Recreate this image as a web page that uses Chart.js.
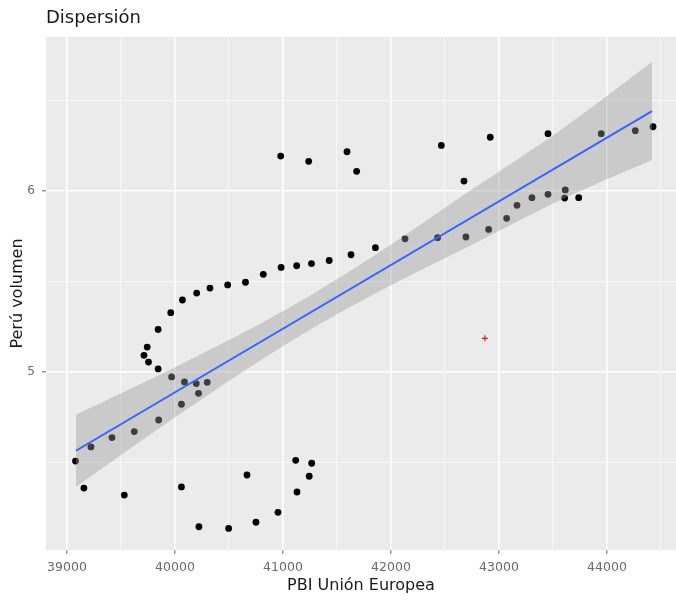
<!DOCTYPE html>
<html>
<head>
<meta charset="utf-8">
<script src="https://cdn.jsdelivr.net/npm/chart.js@4/dist/chart.umd.min.js"></script>
<style>
  body { margin: 0; background: #fff; }
</style>
</head>
<body>
<canvas id="scatterChart" width="676" height="600"></canvas>
<script>
const pbiUE = [39079, 39222, 39157, 39417, 39531, 39623, 39849, 40060, 40218, 40060,
  40088, 40197, 40299, 39969, 39844, 39755, 39713, 39743, 39844, 39961,
  40069, 40201, 40324, 40488, 40653, 40818, 40983, 41127, 41264, 41428,
  41630, 41856, 42130, 42432, 42694, 42904, 43071, 43167, 43305, 43454,
  43614, 43608, 43738, 43947, 44262, 44426, 43454, 42919, 42466, 42676,
  41682, 41593, 41238, 40979, 40222, 40497, 40750, 40954, 40667, 41118,
  41266, 41243, 41130];
const peruVol = [4.508, 4.586, 4.359, 4.638, 4.320, 4.671, 4.735, 4.822, 4.882, 4.365,
  4.945, 4.936, 4.943, 4.973, 5.017, 5.055, 5.092, 5.138, 5.235, 5.328,
  5.398, 5.436, 5.464, 5.481, 5.496, 5.540, 5.578, 5.587, 5.599, 5.616,
  5.648, 5.687, 5.736, 5.742, 5.746, 5.788, 5.849, 5.921, 5.963, 5.982,
  6.006, 5.961, 5.963, 6.317, 6.333, 6.355, 6.317, 6.297, 6.252, 6.055,
  6.109, 6.217, 6.164, 6.193, 4.145, 4.136, 4.170, 4.225, 4.431, 4.512,
  4.496, 4.424, 4.337];

// punto rojo suelto
const rojoX = [42870];
const rojoY = [5.186];

// recta de ajuste y banda de confianza
const fitX = [39083, 44417];
const fitY = [4.565, 6.442];
const bandX = [39083, 39768, 40509, 41250, 41991, 42731, 43565, 44417];
const bandUpper = [4.764, 4.958, 5.179, 5.422, 5.700, 6.001, 6.335, 6.713];
const bandLower = [4.366, 4.654, 4.955, 5.234, 5.476, 5.697, 5.949, 6.171];

const xBreaks = [39000, 39500, 40000, 40500, 41000, 41500, 42000, 42500, 43000, 43500, 44000, 44500];
const yBreaks = [4.5, 5, 5.5, 6, 6.5];

const toXY = (xs, ys) => xs.map((x, i) => ({ x: x, y: ys[i] }));
const isMajorX = v => v % 1000 === 0;
const isMajorY = v => Number.isInteger(v);

const panelBg = {
  id: "panelBg",
  beforeDraw(chart) {
    const { ctx, chartArea: a } = chart;
    ctx.save();
    ctx.fillStyle = "#ebebeb";
    ctx.fillRect(a.left, a.top, a.right - a.left, a.bottom - a.top);
    ctx.restore();
  },
  afterDraw(chart) {
    const ctx = chart.ctx;
    ctx.save();
    ctx.fillStyle = "#1a1a1a";
    ctx.font = '18px "DejaVu Sans"';
    ctx.textBaseline = "alphabetic";
    ctx.fillText("Dispersión", 46, 23);
    ctx.restore();
  }
};

new Chart(document.getElementById("scatterChart"), {
  type: "scatter",
  data: {
    datasets: [
      {
        type: "line",
        data: toXY(fitX, fitY),
        borderColor: "#3366ff",
        borderWidth: 2,
        pointRadius: 0,
        fill: false,
        order: 0
      },
      {
        type: "line",
        data: toXY(bandX, bandUpper),
        borderWidth: 0,
        borderColor: "rgba(0,0,0,0)",
        backgroundColor: "rgba(153,153,153,0.4)",
        pointRadius: 0,
        tension: 0.3,
        fill: "+1",
        order: 1
      },
      {
        type: "line",
        data: toXY(bandX, bandLower),
        borderWidth: 0,
        borderColor: "rgba(0,0,0,0)",
        pointRadius: 0,
        tension: 0.3,
        fill: false,
        order: 1
      },
      {
        data: toXY(rojoX, rojoY),
        pointStyle: "cross",
        pointRadius: 3,
        borderColor: "#d42020",
        borderWidth: 1.2,
        order: 2
      },
      {
        data: toXY(pbiUE, peruVol),
        pointRadius: 3.4,
        backgroundColor: "#000",
        borderWidth: 0,
        order: 3
      }
    ]
  },
  options: {
    responsive: false,
    animation: false,
    layout: { autoPadding: false, padding: { top: 37, left: 0, right: 0, bottom: 0 } },
    plugins: {
      legend: { display: false },
      tooltip: { enabled: false }
    },
    scales: {
      x: {
        type: "linear",
        min: 38806,
        max: 44639,
        afterFit: s => { s.height = 50; },
        afterBuildTicks: s => { s.ticks = xBreaks.map(v => ({ value: v })); },
        border: { display: false },
        grid: {
          color: c => isMajorX(c.tick.value) ? "#ffffff" : "rgba(255,255,255,0.75)",
          lineWidth: c => isMajorX(c.tick.value) ? 1.6 : 0.8,
          tickColor: c => isMajorX(c.tick.value) ? "#666" : "rgba(0,0,0,0)",
          tickLength: 4,
          tickWidth: 1
        },
        ticks: {
          autoSkip: false,
          maxRotation: 0,
          padding: 6,
          color: "#6b6b6b",
          font: { family: "DejaVu Sans", size: 12.5 },
          callback: v => isMajorX(v) ? String(v) : ""
        },
        title: {
          display: true,
          text: "PBI Unión Europea",
          color: "#1a1a1a",
          font: { family: "DejaVu Sans", size: 16 },
          padding: { top: 0, bottom: 5 }
        }
      },
      y: {
        min: 4.0166,
        max: 6.851,
        afterFit: s => { s.width = 46; },
        afterBuildTicks: s => { s.ticks = yBreaks.map(v => ({ value: v })); },
        border: { display: false },
        grid: {
          color: c => isMajorY(c.tick.value) ? "#ffffff" : "rgba(255,255,255,0.75)",
          lineWidth: c => isMajorY(c.tick.value) ? 1.6 : 0.8,
          tickColor: c => isMajorY(c.tick.value) ? "#666" : "rgba(0,0,0,0)",
          tickLength: 4,
          tickWidth: 1
        },
        ticks: {
          autoSkip: false,
          padding: 7,
          color: "#6b6b6b",
          font: { family: "DejaVu Sans", size: 12 },
          callback: v => isMajorY(v) ? String(v) : ""
        },
        title: {
          display: true,
          text: "Perú volumen",
          color: "#1a1a1a",
          font: { family: "DejaVu Sans", size: 16 },
          padding: { top: 8, bottom: 0 }
        }
      }
    }
  },
  plugins: [panelBg]
});
</script>
</body>
</html>
